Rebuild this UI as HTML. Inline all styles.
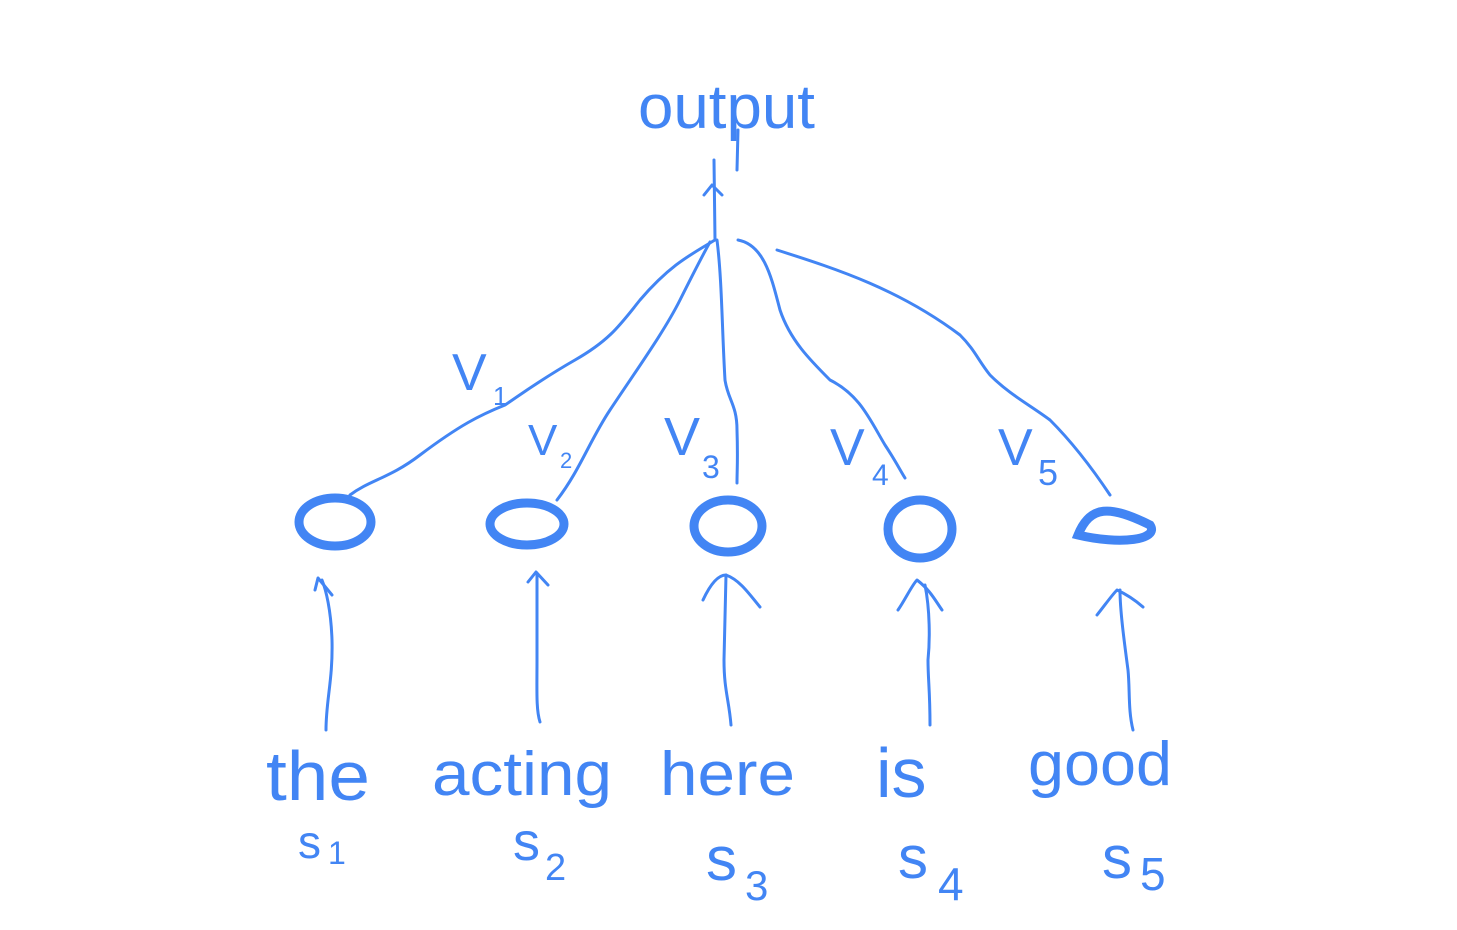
<!DOCTYPE html>
<html><head><meta charset="utf-8"><style>
html,body{margin:0;padding:0;background:#fff;}
svg{display:block}
text{font-family:"Liberation Sans",sans-serif;fill:#4285f4;font-weight:normal}
</style></head><body>
<svg width="1457" height="930" viewBox="0 0 1457 930" xmlns="http://www.w3.org/2000/svg">
<g fill="none" stroke="#4285f4" stroke-width="3" stroke-linecap="round" stroke-linejoin="round">
<path d="M714 160 L715 240"/>
<path d="M738 130 L737 170"/>
<path d="M704 195 L712 185 L722 195"/>
<path d="M350 495 C370 480 390 478 420 455 C460 425 480 415 505 405 C520 395 540 380 575 360 C610 340 620 325 640 300 C670 265 690 255 715 240"/>
<path d="M557 500 C580 470 590 440 610 410 C640 365 665 330 680 300 C695 270 700 260 710 242"/>
<path d="M717 240 C722 280 722 330 725 380 C728 400 737 405 737 430 C738 460 737 470 737 483"/>
<path d="M738 240 C765 245 772 280 780 310 C790 340 810 360 830 380 C860 395 870 420 885 445 C895 460 900 470 905 478"/>
<path d="M777 250 C840 270 900 290 960 335 C975 350 978 360 990 375 C1010 395 1030 405 1050 420 C1070 440 1090 465 1110 495"/>
<path d="M326 730 C326 700 333 680 332 640 C331 610 326 590 322 580"/>
<path d="M315 590 L318 578 L332 595"/>
<path d="M540 722 C536 710 537 690 537 660 L537 575"/>
<path d="M528 582 L536 572 L548 585"/>
<path d="M731 725 C729 700 724 690 724 660 L726 575"/>
<path d="M703 600 C710 585 718 575 726 575 C740 580 750 595 760 607"/>
<path d="M930 725 C930 690 928 680 928 660 C930 640 930 610 925 585"/>
<path d="M898 610 C905 600 912 585 917 580 C930 590 935 600 942 610"/>
<path d="M1133 730 C1128 710 1130 690 1128 670 C1124 640 1120 610 1120 590"/>
<path d="M1097 615 C1105 605 1112 595 1117 590 C1128 595 1135 600 1143 607"/>
</g>
<g fill="none" stroke="#4285f4" stroke-width="9">
<ellipse cx="335" cy="522" rx="36" ry="24"/>
<ellipse cx="527" cy="524" rx="37" ry="21"/>
<ellipse cx="728" cy="526" rx="34" ry="26"/>
<ellipse cx="920" cy="529" rx="32" ry="29"/>
<path d="M1078 535 C1090 505 1110 505 1150 525 C1160 540 1120 545 1078 535 Z"/>
</g>
<text x="638" y="128" font-size="62" textLength="177" lengthAdjust="spacingAndGlyphs">output</text>
<text x="266" y="800" font-size="70" textLength="104" lengthAdjust="spacingAndGlyphs">the</text>
<text x="432" y="795" font-size="62" textLength="180" lengthAdjust="spacingAndGlyphs">acting</text>
<text x="660" y="795" font-size="62" textLength="135" lengthAdjust="spacingAndGlyphs">here</text>
<text x="876" y="797" font-size="70">is</text>
<text x="1028" y="785" font-size="62" textLength="144" lengthAdjust="spacingAndGlyphs">good</text>
<text x="298" y="858" font-size="46">s</text><text x="328" y="864" font-size="32">1</text>
<text x="513" y="860" font-size="54">s</text><text x="545" y="880" font-size="38">2</text>
<text x="706" y="880" font-size="62">s</text><text x="745" y="900" font-size="42">3</text>
<text x="898" y="878" font-size="60">s</text><text x="938" y="900" font-size="46">4</text>
<text x="1102" y="878" font-size="60">s</text><text x="1140" y="890" font-size="46">5</text>
<text x="452" y="390" font-size="52">V</text><text x="493" y="405" font-size="26">1</text>
<text x="528" y="455" font-size="44">V</text><text x="560" y="468" font-size="22">2</text>
<text x="664" y="455" font-size="54">V</text><text x="702" y="478" font-size="32">3</text>
<text x="830" y="465" font-size="52">V</text><text x="872" y="485" font-size="30">4</text>
<text x="998" y="465" font-size="52">V</text><text x="1038" y="485" font-size="36">5</text>
</svg>
</body></html>
